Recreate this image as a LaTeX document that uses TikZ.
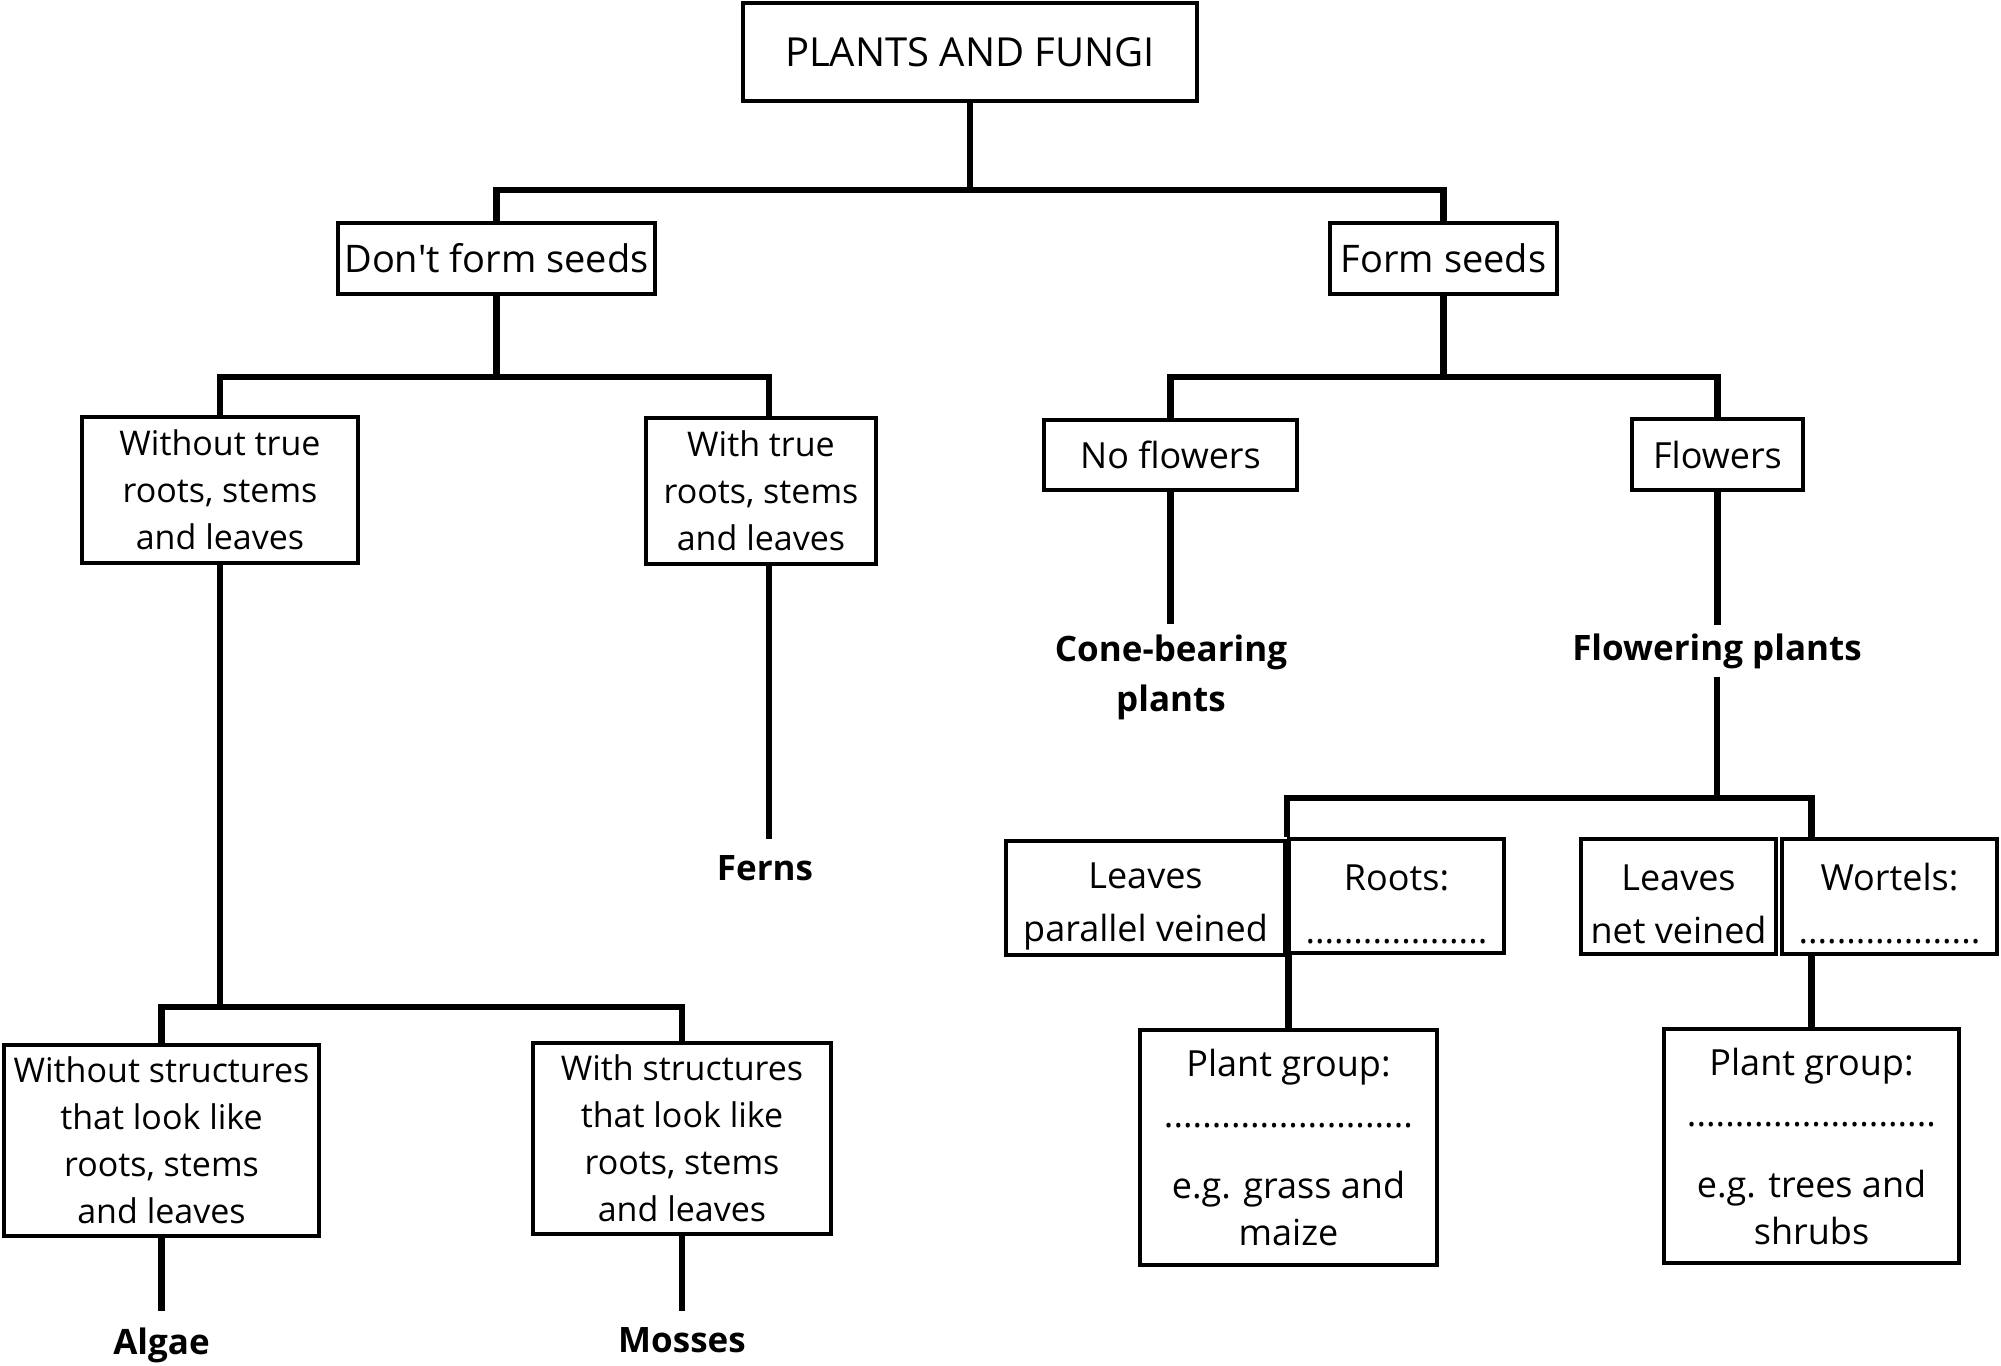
\documentclass[tikz,border=0pt]{standalone}
\usepackage{fontspec}
\setmainfont{Open Sans}
\newcommand{\lowerstrut}{\rule{0pt}{21pt}}
\begin{document}
\begin{tikzpicture}[x=0.5pt,y=-0.5pt,
  box/.style={draw, line width=2pt, align=center, inner sep=0pt},
  conn/.style={line width=3.2pt},
  lab/.style={font=\fontsize{17.5}{25}\selectfont\bfseries, align=center, inner sep=8pt},
  ftitle/.style={font=\fontsize{20}{24}\selectfont},
  fbig/.style={font=\fontsize{19}{23.5}\selectfont},
  fmid/.style={font=\fontsize{18}{23.5}\selectfont},
  fsm/.style={font=\fontsize{17}{23.5}\selectfont}]
\useasboundingbox (0,0) rectangle (2001,1365);

% boxes
\node[box, ftitle, minimum width=227pt, minimum height=49pt] (top) at (970,52) {PLANTS AND FUNGI};
\node[box, fbig, minimum width=158.5pt, minimum height=35.5pt] (dfs) at (496.5,258.5) {Don\textquotesingle t form seeds};
\node[box, fbig, minimum width=113.5pt, minimum height=35.5pt] (fs) at (1443.5,258.5) {Form seeds};
\node[box, fsm, minimum width=138pt, minimum height=73pt] (wtr) at (220,490) {Without true\\roots, stems\\and leaves};
\node[box, fsm, minimum width=115pt, minimum height=73pt] (tr) at (761,491) {With true\\roots, stems\\and leaves};
\node[box, fmid, minimum width=126.5pt, minimum height=35pt] (nf) at (1170.5,455) {No flowers};
\node[box, fmid, minimum width=85.5pt, minimum height=35.5pt] (fl) at (1717.5,454.5) {Flowers};
\node[box, fsm, minimum width=157.5pt, minimum height=95.5pt] (ws) at (161.5,1140.5) {Without structures\\that look like\\roots, stems\\and leaves};
\node[box, fsm, minimum width=149pt, minimum height=95.5pt] (wis) at (682,1138.5) {With structures\\that look like\\roots, stems\\and leaves};
\node[box, fmid, minimum width=139.5pt, minimum height=57pt] (lpv) at (1145.5,898) {\lowerstrut Leaves\\[3pt]parallel veined};
\node[box, fmid, minimum width=107.5pt, minimum height=57pt] (roots) at (1396.5,896) {\lowerstrut Roots:\\[3pt]...................};
\node[box, fmid, minimum width=97.5pt, minimum height=57.5pt] (lnv) at (1678.5,896.5) {\lowerstrut Leaves\\[3pt]net veined};
\node[box, fmid, minimum width=107.5pt, minimum height=57.5pt] (wort) at (1889.5,896.5) {\lowerstrut Wortels:\\[3pt]...................};
\node[box, fmid, minimum width=148.5pt, minimum height=117.5pt] (pg1) at (1288.5,1147.5) {Plant group:\\[2pt]..........................\\[12pt]e.g. grass and\\maize};
\node[box, fmid, minimum width=147.5pt, minimum height=117pt] (pg2) at (1811.5,1146) {Plant group:\\[2pt]..........................\\[12pt]e.g. trees and\\shrubs};

% labels
\node[lab, anchor=north] (ferns) at (765,839) {Ferns};
\node[lab, anchor=north, inner sep=5pt] (cone) at (1171,624) {Cone-bearing\\plants};
\node[lab, anchor=north, inner sep=4pt] (flw) at (1717,625) {Flowering plants};
\node[lab, anchor=north] (algae) at (161.5,1311) {Algae};
\node[lab, anchor=north] (mosses) at (682,1311) {Mosses};

% connectors
\coordinate (b1) at (970,190);
\draw[conn] (top.south) -- (b1);
\draw[conn] (dfs.north) |- (b1) -| (fs.north);

\coordinate (b2) at (496.5,377);
\draw[conn] (dfs.south) -- (b2);
\draw[conn] (wtr.north) |- (b2) -| ([xshift=4pt]tr.north);
\draw[conn] ([xshift=4pt]tr.south) -- ([xshift=4pt]tr.south |- ferns.north);

\coordinate (b3) at (1443.5,377);
\draw[conn] (fs.south) -- (b3);
\draw[conn] (nf.north) |- (b3) -| (fl.north);
\draw[conn] (nf.south) -- (nf.south |- cone.north);
\draw[conn] (fl.south) -- (fl.south |- flw.north);

\coordinate (b4) at (1717,798);
\draw[conn] (flw.south) -- (b4);
\draw[conn] (roots.north west) |- (b4) -| (pg2.north |- wort.north);
\draw[conn] (pg1.north) -- (pg1.north |- roots.south);
\draw[conn] (pg2.north) -- (pg2.north |- wort.south);

\coordinate (b5) at (220,1007);
\draw[conn] (wtr.south) -- (b5);
\draw[conn] (ws.north) |- (b5) -| (wis.north);
\draw[conn] (ws.south) -- (algae.north);
\draw[conn] (wis.south) -- (mosses.north);
\end{tikzpicture}
\end{document}
